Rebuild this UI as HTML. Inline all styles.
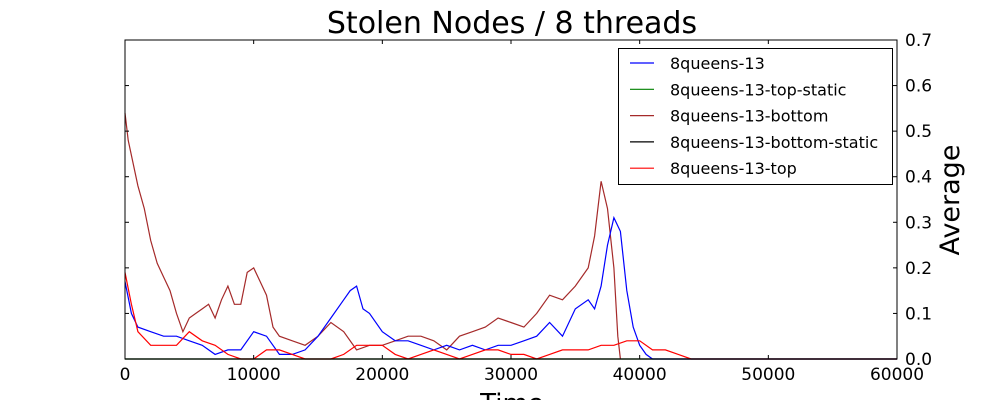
<!DOCTYPE html>
<html><head><meta charset="utf-8"><style>
body{margin:0;background:#fff;}
svg text{font-family:"DejaVu Sans","Liberation Sans",sans-serif;}
</style></head><body>
<svg id="chart" width="1000" height="400" xmlns="http://www.w3.org/2000/svg">
<rect width="1000" height="400" fill="#fff"/>
<text x="512" y="33" font-size="30" text-anchor="middle">Stolen Nodes / 8 threads</text>
<g id="marks"></g>
<rect x="125" y="40" width="772" height="319" fill="none" stroke="#000" stroke-width="1"/>
<g id="ticks"></g>
<text x="512" y="412" font-size="26" text-anchor="middle">Time</text>
<text transform="translate(959,200) rotate(-90)" font-size="27" text-anchor="middle">Average</text>
<g id="legend"></g>
</svg>
<script>
const xTicks=[0,10000,20000,30000,40000,50000,60000];
const yTicks=[0.0,0.1,0.2,0.3,0.4,0.5,0.6,0.7];
const seriesNames=["8queens-13","8queens-13-top-static","8queens-13-bottom","8queens-13-bottom-static","8queens-13-top"];
const seriesColors=["#0000ff","#008000","#a52a2a","#000000","#ff0000"];
const blueX=[0,500,1000,2000,3000,4000,5000,6000,7000,8000,9000,10000,11000,12000,13000,14000,15000,16000,17000,17500,18000,18500,19000,20000,21000,22000,23000,24000,25000,26000,27000,28000,29000,30000,31000,32000,33000,34000,35000,36000,36500,37000,37500,38000,38500,39000,39500,40000,40500,41000,60000];
const blueY=[0.17,0.1,0.07,0.06,0.05,0.05,0.04,0.03,0.01,0.02,0.02,0.06,0.05,0.01,0.01,0.02,0.05,0.09,0.13,0.15,0.16,0.11,0.1,0.06,0.04,0.04,0.03,0.02,0.03,0.02,0.03,0.02,0.03,0.03,0.04,0.05,0.08,0.05,0.11,0.13,0.11,0.16,0.25,0.31,0.28,0.15,0.07,0.03,0.01,0,0];
const brownX=[0,250,1000,1500,2000,2500,3000,3500,4000,4500,5000,5500,6000,6500,7000,7500,8000,8500,9000,9500,10000,10500,11000,11500,12000,13000,14000,15000,16000,17000,18000,19000,20000,21000,22000,23000,24000,25000,26000,27000,28000,29000,30000,31000,32000,33000,34000,35000,36000,36500,37000,37500,38000,38300,38500];
const brownY=[0.54,0.48,0.38,0.33,0.26,0.21,0.18,0.15,0.1,0.06,0.09,0.1,0.11,0.12,0.09,0.13,0.16,0.12,0.12,0.19,0.2,0.17,0.14,0.07,0.05,0.04,0.03,0.05,0.08,0.06,0.02,0.03,0.03,0.04,0.05,0.05,0.04,0.02,0.05,0.06,0.07,0.09,0.08,0.07,0.1,0.14,0.13,0.16,0.2,0.27,0.39,0.33,0.2,0.05,0];
const redX=[0,500,1000,2000,3000,4000,5000,6000,7000,8000,9000,10000,11000,12000,13000,14000,15000,16000,17000,18000,19000,20000,21000,22000,23000,24000,25000,26000,27000,28000,29000,30000,31000,32000,33000,34000,35000,36000,37000,38000,39000,40000,41000,42000,43000,44000,60000];
const redY=[0.19,0.12,0.06,0.03,0.03,0.03,0.06,0.04,0.03,0.01,0,0,0.02,0.02,0.01,0,0,0,0.01,0.03,0.03,0.03,0.01,0,0.01,0.02,0.01,0,0.01,0.02,0.02,0.01,0.01,0,0.01,0.02,0.02,0.02,0.03,0.03,0.04,0.04,0.02,0.02,0.01,0,0];
const greenX=[0,60000], greenY=[0,0];
const blackX=[0,60000], blackY=[0,0];

const X0=125,X1=897,Y0=359,Y1=40;
const sx=v=>X0+(v-0)/(60000-0)*(X1-X0);
const sy=v=>Y0-(v-0)/(0.7-0)*(Y0-Y1);
const NS="http://www.w3.org/2000/svg";
function mk(tag,attrs,parent){const e=document.createElementNS(NS,tag);for(const k in attrs)e.setAttribute(k,attrs[k]);parent.appendChild(e);return e;}
const marks=document.getElementById('marks');
function line(xs,ys,color,name){
  const d=xs.map((x,i)=>(i?'L':'M')+sx(x).toFixed(1)+','+sy(ys[i]).toFixed(1)).join(' ');
  const p=mk('path',{d:d,fill:'none',stroke:color,'stroke-width':1.2},marks);
  
  
}
line(greenX,greenY,seriesColors[1],'series-top-static');
line(brownX,brownY,seriesColors[2],'series-bottom');
line(blueX,blueY,seriesColors[0],'series-8queens-13');
line(redX,redY,seriesColors[4],'series-top');
line(blackX,blackY,seriesColors[3],'series-bottom-static');

const ticks=document.getElementById('ticks');
xTicks.forEach(v=>{
  const x=sx(v);
  mk('line',{x1:x,x2:x,y1:Y0,y2:Y0-4,stroke:'#000'},ticks);
  mk('line',{x1:x,x2:x,y1:Y1,y2:Y1+4,stroke:'#000'},ticks);
  const t=mk('text',{x:x,y:380,'font-size':17,'text-anchor':'middle'},ticks);
  t.textContent=v;
  
  
});
yTicks.forEach(v=>{
  const y=sy(v);
  mk('line',{x1:X1,x2:X1-4,y1:y,y2:y,stroke:'#000'},ticks);
  mk('line',{x1:X0,x2:X0+4,y1:y,y2:y,stroke:'#000'},ticks);
  const t=mk('text',{x:905,y:y+6,'font-size':17},ticks);
  t.textContent=v.toFixed(1);
  
  
});

const lg=document.getElementById('legend');
mk('rect',{x:618.5,y:48.5,width:274,height:136,fill:'#fff',stroke:'#000'},lg);
const legendColors=["#0000ff","#008000","#a52a2a","#000000","#ff0000"];
seriesNames.forEach((n,i)=>{
  const y=63+i*26.3;
  const g=mk('g',{},lg);
  
  
  mk('line',{x1:630,x2:654,y1:y,y2:y,stroke:legendColors[i],'stroke-width':1.2},g);
  const t=mk('text',{x:670,y:y+6,'font-size':16},g);
  t.textContent=n;
});
</script>
</body></html>
